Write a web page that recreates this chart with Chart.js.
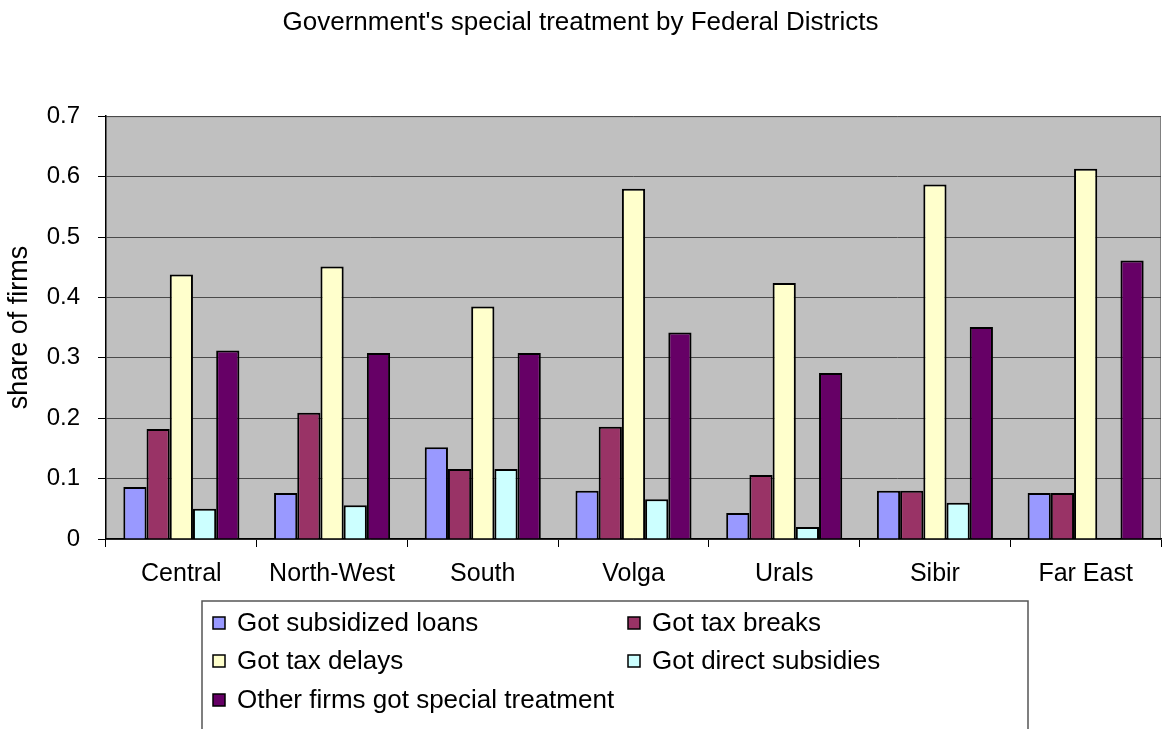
<!DOCTYPE html>
<html>
<head>
<meta charset="utf-8">
<script src="https://cdn.jsdelivr.net/npm/chart.js@4"></script>
<style>
  html, body { margin: 0; padding: 0; background: #fff; }
  #wrap { width: 1162px; height: 729px; position: relative; }
</style>
</head>
<body>
<div id="wrap"><canvas id="grafico"></canvas></div>
<script>
    // dados
    const distritos = ['Central', 'North-West', 'South', 'Volga', 'Urals', 'Sibir', 'Far East'];
    const emprestimos = [0.086, 0.076, 0.152, 0.080, 0.043, 0.080, 0.076];
    const isencoes = [0.182, 0.209, 0.116, 0.186, 0.106, 0.080, 0.076];
    const atrasos = [0.438, 0.451, 0.385, 0.580, 0.424, 0.587, 0.613];
    const subsidios = [0.050, 0.056, 0.116, 0.066, 0.020, 0.060, null];
    const outros = [0.312, 0.308, 0.308, 0.342, 0.275, 0.351, 0.461];
    const nomesSeries = ['Got subsidized loans', 'Got tax breaks', 'Got tax delays', 'Got direct subsidies', 'Other firms got special treatment'];
    const coresSeries = ['#9999FF', '#993366', '#FFFFCC', '#CCFFFF', '#660066'];
    const valoresY = [0, 0.1, 0.2, 0.3, 0.4, 0.5, 0.6, 0.7];

    const fonte = "'Liberation Sans', Arial, sans-serif";
    const series = [emprestimos, isencoes, atrasos, subsidios, outros];

    // fundo cinza da area do grafico
    const fundoPlot = {
      id: 'fundoPlot',
      beforeDraw(chart) {
        const { ctx, chartArea: a } = chart;
        ctx.save();
        ctx.fillStyle = '#C0C0C0';
        ctx.fillRect(a.left, a.top, a.right - a.left, a.bottom - a.top);
        ctx.strokeStyle = '#808080';
        ctx.lineWidth = 1;
        ctx.beginPath();
        ctx.moveTo(a.left, a.top + 0.5);
        ctx.lineTo(a.right - 0.5, a.top + 0.5);
        ctx.lineTo(a.right - 0.5, a.bottom);
        ctx.stroke();
        ctx.restore();
      }
    };

    // legenda em duas colunas, com caixa
    const legendaCaixa = {
      id: 'legendaCaixa',
      afterDraw(chart) {
        const ctx = chart.ctx;
        const caixa = { x: 202, y: 601, w: 826, h: 140 };
        const colunas = [213, 628];
        const linhas = [623, 661, 700];
        ctx.save();
        ctx.strokeStyle = '#555';
        ctx.lineWidth = 1.5;
        ctx.strokeRect(caixa.x, caixa.y, caixa.w, caixa.h);
        ctx.font = '26px ' + fonte;
        ctx.textBaseline = 'middle';
        chart.data.datasets.forEach((ds, i) => {
          const x = colunas[i % 2];
          const y = linhas[Math.floor(i / 2)];
          ctx.fillStyle = ds.backgroundColor;
          ctx.fillRect(x, y - 6, 12, 12);
          ctx.strokeStyle = '#000';
          ctx.lineWidth = 1.5;
          ctx.strokeRect(x, y - 6, 12, 12);
          ctx.fillStyle = '#000';
          ctx.fillText(ds.label, x + 24, y + 1);
        });
        ctx.restore();
      }
    };

    const ctx = document.getElementById('grafico').getContext('2d');
    const chart = new Chart(ctx, {
      type: 'bar',
      data: {
        labels: distritos,
        datasets: series.map((s, i) => ({
          label: nomesSeries[i],
          data: s,
          backgroundColor: coresSeries[i],
          borderColor: '#000',
          borderWidth: 2,
          categoryPercentage: 0.77,
          barPercentage: 1.0
        }))
      },
      options: {
        responsive: true,
        maintainAspectRatio: false,
        animation: false,
        layout: { padding: { left: 0, right: 1, top: 0, bottom: 140 } },
        plugins: {
          legend: { display: false },
          tooltip: { enabled: false },
          title: {
            display: true,
            text: "Government's special treatment by Federal Districts",
            color: '#000',
            font: { family: fonte, size: 26, weight: 'normal' },
            padding: { top: 7, bottom: 78 }
          }
        },
        scales: {
          x: {
            afterFit(scale) { scale.height = 50; },
            grid: { display: true, drawOnChartArea: false, drawTicks: true, tickLength: 8, color: '#000', offset: true },
            border: { color: '#000', width: 1.5 },
            ticks: { color: '#000', font: { family: fonte, size: 25 }, padding: 12, maxRotation: 0, autoSkip: false }
          },
          y: {
            min: 0,
            max: 0.7,
            afterFit(scale) { scale.width = 106; },
            afterBuildTicks(scale) { scale.ticks = valoresY.map(v => ({ value: v })); },
            grid: { color: '#4a4a4a', lineWidth: 1, tickLength: 8, tickColor: '#000' },
            border: { color: '#000', width: 1.5 },
            ticks: {
              color: '#000',
              font: { family: fonte, size: 24 },
              padding: 18,
              callback: v => v === 0 ? '0' : v.toFixed(1)
            },
            title: {
              display: true,
              text: 'share of firms',
              color: '#000',
              font: { family: fonte, size: 27 },
              padding: { top: 3, bottom: 0 }
            }
          }
        }
      },
      plugins: [fundoPlot, legendaCaixa]
    });
</script>
</body>
</html>
